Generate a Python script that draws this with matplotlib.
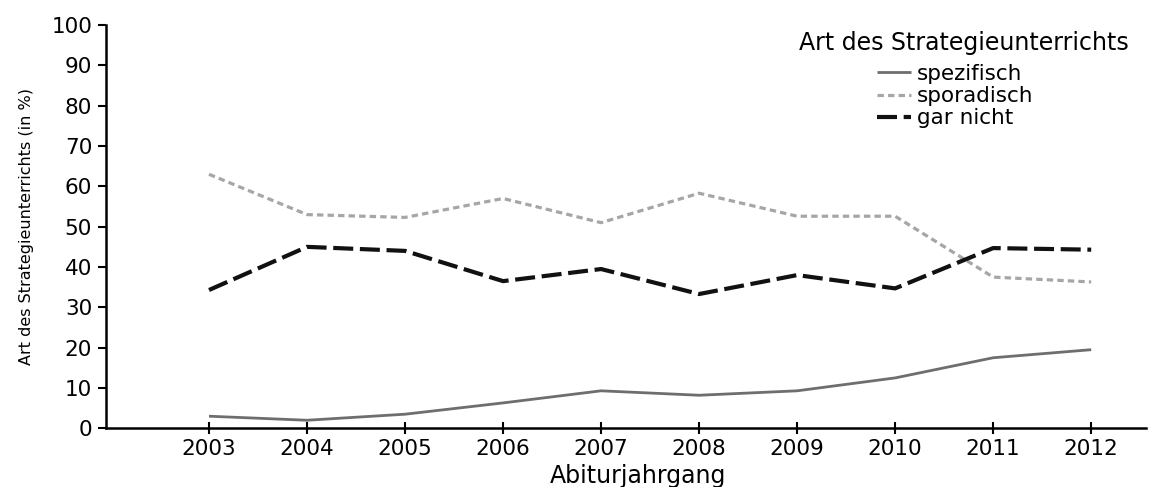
import matplotlib
matplotlib.use("Agg")
import matplotlib.pyplot as plt

years = [2003, 2004, 2005, 2006, 2007, 2008, 2009, 2010, 2011, 2012]
spezifisch = [3.0, 2.0, 3.5, 6.3, 9.3, 8.2, 9.3, 12.5, 17.5, 19.5]
sporadisch = [63.0, 53.0, 52.3, 57.0, 51.0, 58.3, 52.6, 52.6, 37.5, 36.3]
gar_nicht = [34.3, 45.0, 44.0, 36.5, 39.5, 33.3, 38.0, 34.7, 44.7, 44.3]
series_labels = ["spezifisch", "sporadisch", "gar nicht"]
legend_title = "Art des Strategieunterrichts"
yticks = list(range(0, 101, 10))

plt.rcParams['font.family'] = ['DejaVu Sans']

W, H = 1153, 487
fig = plt.figure(figsize=(W / 100, H / 100), dpi=100)
ax = fig.add_axes([0.092, 0.1205, 0.902, 0.828])

ax.plot(years, spezifisch, color='#6e6e6e', lw=2.0, solid_capstyle='butt', label=series_labels[0])
ax.plot(years, sporadisch, color='#a6a6a6', lw=2.3, linestyle=(0, (2.0, 1.3)), label=series_labels[1])
ax.plot(years, gar_nicht, color='#111111', lw=3.0, linestyle=(0, (4.8, 1.6)), label=series_labels[2])

ax.set_xlim(2001.95, 2012.56)
ax.set_ylim(0, 100)
ax.set_xticks(years)
ax.set_yticks(yticks)
ax.spines['top'].set_visible(False)
ax.spines['right'].set_visible(False)
ax.spines['left'].set_linewidth(1.8)
ax.spines['bottom'].set_linewidth(1.8)
ax.tick_params(axis='y', direction='out', length=6, width=1.5, labelsize=15.5, pad=4)
ax.tick_params(axis='x', direction='inout', length=9, width=1.5, labelsize=15.5, pad=3)

ax.set_ylabel("Art des Strategieunterrichts (in %)", fontsize=11.5, labelpad=12.5)
ax.set_xlabel("Abiturjahrgang", fontsize=17)
ax.xaxis.set_label_coords((638 - 106) / 1040, -0.088)

fig.text(964 / W, 1 - 43 / H, legend_title, fontsize=17, ha='center', va='center')
leg = ax.legend(loc='upper left', bbox_to_anchor=(877 / W, 1 - 64 / H), bbox_transform=fig.transFigure,
                frameon=False, fontsize=15.5, handlelength=1.6, handletextpad=0.25,
                labelspacing=0.1, borderpad=0.0, borderaxespad=0.0)

fig.savefig("out.png", dpi=100)
